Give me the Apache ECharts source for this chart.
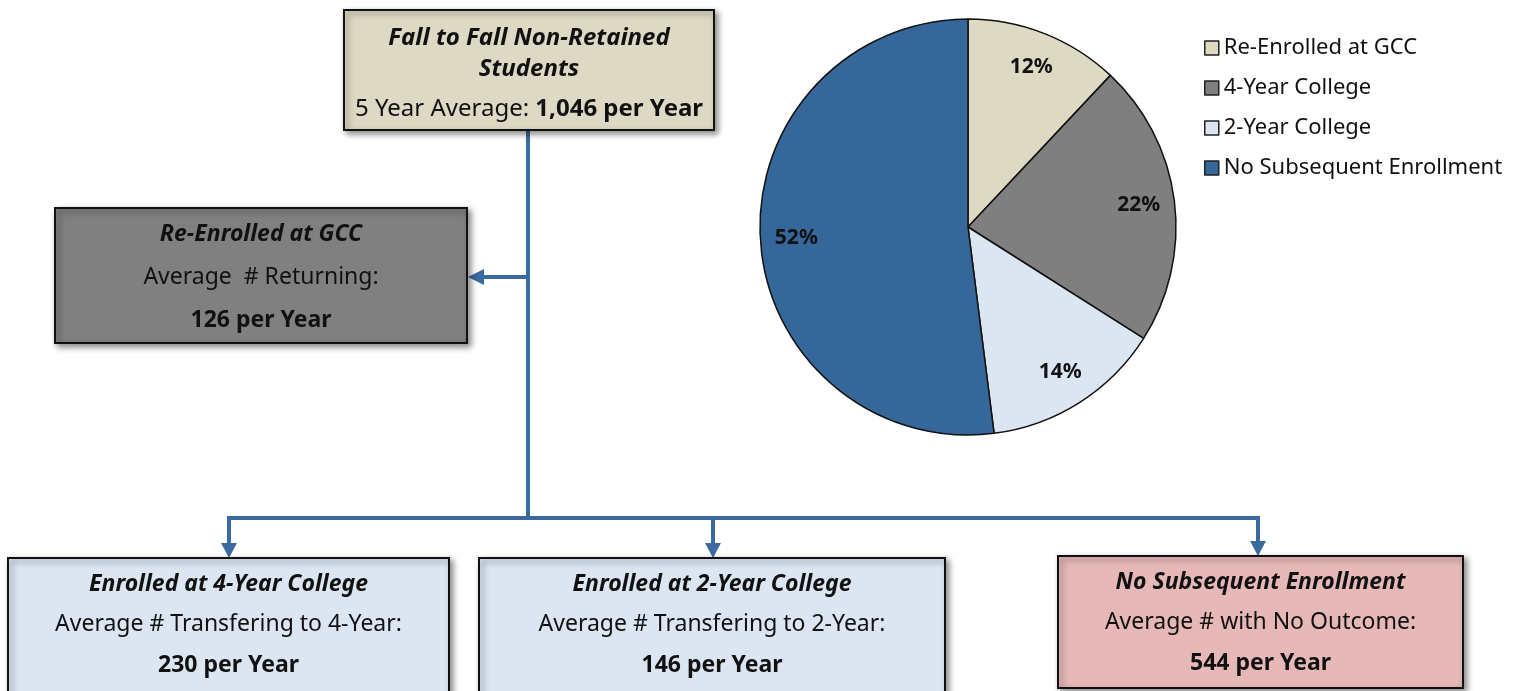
<!DOCTYPE html>
<html>
<head>
<meta charset="utf-8">
<script src="https://cdn.jsdelivr.net/npm/echarts@6/dist/echarts.min.js"></script>
<style>html,body{margin:0;padding:0;background:#fff}#c{width:1526px;height:691px}</style>
</head>
<body>
<div id="c"></div>
<script>
// ---- data ----
const pieNames = ['Re-Enrolled at GCC', '4-Year College', '2-Year College', 'No Subsequent Enrollment'];
const pieValues = [12, 22, 14, 52];
const boxTitles = ['Fall to Fall Non-Retained\nStudents', 'Re-Enrolled at GCC', 'Enrolled at 4-Year College', 'Enrolled at 2-Year College', 'No Subsequent Enrollment'];
const boxLabels = ['5 Year Average: ', 'Average  # Returning:', 'Average # Transfering to 4-Year:', 'Average # Transfering to 2-Year:', 'Average # with No Outcome:'];
const boxValues = [1046, 126, 230, 146, 544];

// ---- style ----
const FONT = '"Noto Sans", sans-serif';
const pieColors = ['#ddd9c3', '#7f7f7f', '#dce6f2', '#35679a'];
const LINE = '#3b6aa0';
const boxGeom = [
  {x: 344, y: 10, w: 370, h: 120, fill: '#ddd9c4', ty: [38, 69], vy: 109, inline: true, fs: 24},
  {x: 55, y: 208, w: 412, h: 135, fill: '#808080', ty: [234], ly: 277, vy: 320, fs: 23},
  {x: 8, y: 558, w: 441, h: 145, fill: '#dce6f2', ty: [584], ly: 624, vy: 665, fs: 23},
  {x: 479, y: 558, w: 466, h: 145, fill: '#dce6f2', ty: [584], ly: 624, vy: 665, fs: 23},
  {x: 1058, y: 556, w: 405, h: 132, fill: '#e6b9b8', ty: [582], ly: 622, vy: 663, fs: 23}
];

function txt(x, y, text, fs, opts) {
  return {
    type: 'text', x: x, y: y, z: 20,
    style: Object.assign({
      text: text, fill: '#111', fontSize: fs, fontFamily: FONT,
      textAlign: 'center', textVerticalAlign: 'middle', align: 'center', verticalAlign: 'middle'
    }, opts || {})
  };
}

const elements = [];
// connector lines
const lw = 4;
function seg(x1, y1, x2, y2) {
  elements.push({type: 'line', z: 5, shape: {x1: x1, y1: y1, x2: x2, y2: y2}, style: {stroke: LINE, lineWidth: lw, lineCap: 'square'}});
}
function arrowDown(x, yTip) {
  elements.push({type: 'polygon', z: 6, shape: {points: [[x - 8, yTip - 15], [x + 8, yTip - 15], [x, yTip]]}, style: {fill: LINE}});
}
seg(528, 130, 528, 518);
seg(528, 277, 482, 277);
elements.push({type: 'polygon', z: 6, shape: {points: [[484, 269], [484, 285], [468, 277]]}, style: {fill: LINE}});
seg(229, 518, 1258, 518);
seg(229, 518, 229, 545);
seg(713, 518, 713, 545);
seg(1258, 518, 1258, 543);
arrowDown(229, 558);
arrowDown(713, 558);
arrowDown(1258, 556);

// boxes
boxGeom.forEach(function (g, i) {
  elements.push({
    type: 'rect', z: 10,
    shape: {x: g.x, y: g.y, width: g.w, height: g.h},
    style: {fill: g.fill, stroke: '#111', lineWidth: 2, shadowBlur: 6, shadowOffsetX: 3, shadowOffsetY: 3, shadowColor: 'rgba(0,0,0,0.45)'}
  });
  const cx = g.x + g.w / 2;
  const titles = boxTitles[i].split('\n');
  titles.forEach(function (t, k) {
    elements.push(txt(cx, g.ty[k], t, g.fs, {fontWeight: 'bold', fontStyle: 'italic'}));
  });
  const valText = boxValues[i].toLocaleString('en-US') + ' per Year';
  if (g.inline) {
    elements.push(txt(cx, g.vy, boxLabels[i] + '{b|' + valText + '}', g.fs, {
      rich: {b: {fontWeight: 'bold', fontSize: g.fs, fontFamily: FONT, fill: '#111'}}
    }));
  } else {
    elements.push(txt(cx, g.ly, boxLabels[i], g.fs));
    elements.push(txt(cx, g.vy, valText, g.fs, {fontWeight: 'bold'}));
  }
});

const pieData = pieNames.map(function (n, i) {
  return {name: n, value: pieValues[i], itemStyle: {color: pieColors[i]}};
});

const chart = echarts.init(document.getElementById('c'), null, {renderer: 'canvas'});
chart.setOption({
  animation: false,
  backgroundColor: '#fff',
  legend: {
    orient: 'vertical', left: 1199, top: 32,
    icon: 'rect', itemWidth: 14, itemHeight: 14, itemGap: 18,
    data: pieNames,
    textStyle: {fontSize: 22, fontFamily: FONT, color: '#111', padding: [0, 0, 0, 0]},
    itemStyle: {borderColor: '#222', borderWidth: 1.5},
    selectedMode: false
  },
  series: [
    {
      type: 'pie', center: [968, 227], radius: [0, 208], startAngle: 90, clockwise: true,
      data: pieData, silent: true,
      itemStyle: {borderColor: '#111', borderWidth: 1.5},
      label: {show: false}, labelLine: {show: false},
      emphasis: {disabled: true}
    },
    {
      type: 'pie', center: [968, 227], radius: [130, 208], startAngle: 90, clockwise: true,
      data: pieNames.map(function (n, i) { return {name: n, value: pieValues[i], itemStyle: {color: 'rgba(0,0,0,0)'}}; }),
      silent: true, legendHoverLink: false,
      itemStyle: {borderWidth: 0},
      label: {show: true, position: 'inside', formatter: '{c}%', fontSize: 21, fontWeight: 'bold', fontFamily: FONT, color: '#111'},
      labelLine: {show: false},
      emphasis: {disabled: true}
    }
  ],
  graphic: {elements: elements}
});
</script>
</body>
</html>
